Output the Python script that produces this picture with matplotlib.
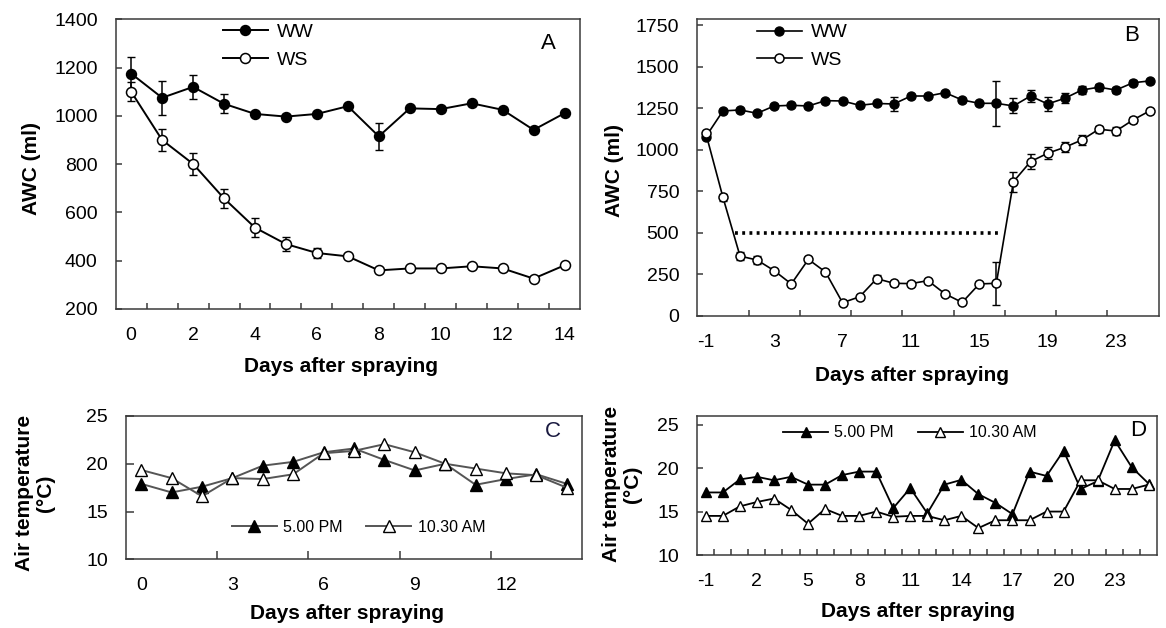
import numpy as np
import matplotlib
matplotlib.use("Agg")
import matplotlib.pyplot as plt

plt.rcParams['font.family'] = ['Liberation Sans', 'DejaVu Sans']
plt.rcParams['axes.unicode_minus'] = False

# ---- Panel A: available water content, 0-14 days ----
days_a = list(range(0, 15))
ww_a = [1175, 1075, 1120, 1050, 1008, 997, 1008, 1040, 915, 1031, 1028, 1052, 1025, 942, 1011]
ww_a_err = [70, 70, 50, 40, 10, 10, 10, 10, 55, 10, 10, 10, 10, 10, 10]
ws_a = [1100, 900, 801, 658, 537, 469, 432, 418, 360, 368, 368, 377, 368, 326, 381]
ws_a_err = [40, 45, 45, 40, 40, 30, 20, 10, 10, 10, 10, 10, 10, 10, 10]

# ---- Panel B: available water content, -1-25 days ----
days_b = list(range(-1, 26))
ww_b = [1080, 1235, 1241, 1221, 1265, 1269, 1265, 1297, 1295, 1269, 1280, 1277, 1325, 1325,
        1345, 1301, 1281, 1281, 1265, 1325, 1277, 1311, 1361, 1378, 1361, 1405, 1416]
ww_b_err = [10, 10, 10, 10, 10, 10, 10, 10, 10, 10, 10, 45, 10, 10,
            10, 10, 10, 135, 45, 35, 40, 30, 25, 20, 20, 15, 10]
ws_b = [1100, 715, 361, 337, 273, 193, 341, 265, 80, 116, 225, 197, 195, 213,
        133, 82, 193, 197, 809, 930, 980, 1016, 1060, 1125, 1114, 1181, 1237]
ws_b_err = [10, 20, 25, 25, 10, 10, 10, 10, 10, 10, 20, 15, 10, 10,
            10, 10, 10, 130, 60, 45, 35, 30, 30, 20, 25, 20, 10]
threshold_b = 500
threshold_span = (0.7, 16.3)

# ---- Panel C: air temperature, 0-14 days ----
days_c = list(range(0, 15))
pm_c = [17.9, 17.0, 17.6, 18.5, 19.8, 20.2, 21.2, 21.6, 20.4, 19.3, 20.0, 17.8, 18.4, 18.9, 17.9]
am_c = [19.35, 18.5, 16.6, 18.5, 18.4, 18.9, 21.1, 21.35, 22.05, 21.2, 20.0, 19.5, 19.0, 18.8, 17.5]

# ---- Panel D: air temperature, -1-25 days ----
days_d = list(range(-1, 26))
pm_d = [17.2, 17.2, 18.7, 19.0, 18.6, 19.0, 18.1, 18.1, 19.2, 19.6, 19.6, 15.4, 17.7, 14.8,
        18.1, 18.65, 17.0, 16.0, 14.7, 19.6, 19.1, 22.0, 17.6, 18.5, 23.2, 20.1, 18.2]
am_d = [14.5, 14.5, 15.6, 16.1, 16.5, 15.2, 13.6, 15.3, 14.5, 14.5, 15.0, 14.4, 14.5, 14.5,
        14.0, 14.5, 13.1, 14.0, 14.0, 14.0, 15.0, 15.0, 18.6, 18.6, 17.6, 17.6, 18.1]

SPINE = '#3a3a3a'
W, H = 1166, 628


def px_axes(left, right, top, bottom):
    return [left / W, 1 - bottom / H, (right - left) / W, (bottom - top) / H]


def style(ax, minor_ticks, major_ticks, ylim, yticks, ticklen):
    for s in ax.spines.values():
        s.set_color(SPINE)
        s.set_linewidth(1.1)
    ax.set_xticks(major_ticks)
    ax.set_xticks(minor_ticks, minor=True)
    ax.set_ylim(*ylim)
    ax.set_yticks(yticks)
    ax.tick_params(axis='x', which='major', length=0, labelsize=14, pad=13)
    ax.tick_params(axis='x', which='minor', direction='in', length=ticklen,
                   width=1.1, color=SPINE)
    ax.tick_params(axis='y', direction='in', length=ticklen, width=1.1,
                   color=SPINE, labelsize=14, pad=13)


fig = plt.figure(figsize=(11.66, 6.28), dpi=100)

# Panel A
ax_a = fig.add_axes(px_axes(115.7, 580, 19.3, 309))
ax_a.errorbar(days_a, ww_a, yerr=ww_a_err, fmt='none', ecolor='black', elinewidth=1.1, capsize=3, zorder=2)
ax_a.errorbar(days_a, ws_a, yerr=ws_a_err, fmt='none', ecolor='black', elinewidth=1.1, capsize=3, zorder=2)
ax_a.plot(days_a, ww_a, color='black', lw=1.4, marker='o', ms=7.2, mfc='black', mec='black', label='WW', zorder=3)
ax_a.plot(days_a, ws_a, color='black', lw=1.4, marker='o', ms=7.2, mfc='white', mec='black', mew=1.1, label='WS', zorder=3)
ax_a.set_xlim(-0.5, 14.5)
style(ax_a, np.arange(0.5, 14, 1), range(0, 15, 2), (200, 1400), range(200, 1401, 200), 4)
ax_a.legend(loc='upper left', bbox_to_anchor=(0.231, 0.985), frameon=False, fontsize=14,
            borderpad=0, borderaxespad=0, handlelength=2.3, handletextpad=0.5)
ax_a.text(0.932, 0.917, 'A', transform=ax_a.transAxes, fontsize=16, ha='center', va='center')
ax_a.set_ylabel('AWC (ml)', fontsize=15, fontweight='bold', va='center')
ax_a.yaxis.set_label_coords(-0.182, 0.485)
ax_a.set_xlabel('Days after spraying', fontsize=15, fontweight='bold', va='center')
ax_a.xaxis.set_label_coords(0.485, -0.197)

# Panel B
ax_b = fig.add_axes(px_axes(697.3, 1158.7, 19.3, 316))
ax_b.errorbar(days_b, ww_b, yerr=ww_b_err, fmt='none', ecolor='black', elinewidth=1.1, capsize=3, zorder=2)
ax_b.errorbar(days_b, ws_b, yerr=ws_b_err, fmt='none', ecolor='black', elinewidth=1.1, capsize=3, zorder=2)
ax_b.plot(days_b, ww_b, color='black', lw=1.2, marker='o', ms=6.5, mfc='black', mec='black', label='WW', zorder=3)
ax_b.plot(days_b, ws_b, color='black', lw=1.2, marker='o', ms=6.5, mfc='white', mec='black', mew=1.1, label='WS', zorder=3)
ax_b.plot(threshold_span, [threshold_b, threshold_b], color='black', lw=2.6,
          linestyle=(0, (0.8, 1.2)), zorder=2)
ax_b.set_xlim(-1.5, 25.5)
style(ax_b, np.arange(1.5, 25, 3), range(-1, 26, 4), (0, 1787), range(0, 1751, 250), 4)
ax_b.legend(loc='upper left', bbox_to_anchor=(0.129, 0.985), frameon=False, fontsize=14,
            borderpad=0, borderaxespad=0, handlelength=2.3, handletextpad=0.5)
ax_b.text(0.9415, 0.944, 'B', transform=ax_b.transAxes, fontsize=16, ha='center', va='center')
ax_b.set_ylabel('AWC (ml)', fontsize=15, fontweight='bold', va='center')
ax_b.yaxis.set_label_coords(-0.18, 0.489)
ax_b.set_xlabel('Days after spraying', fontsize=15, fontweight='bold', va='center')
ax_b.xaxis.set_label_coords(0.465, -0.199)

# Panel C
ax_c = fig.add_axes(px_axes(126, 582, 416, 559.3))
ax_c.plot(days_c, pm_c, color='#555555', lw=1.4, marker='^', ms=8, mfc='black', mec='black', label='5.00 PM')
ax_c.plot(days_c, am_c, color='#555555', lw=1.4, marker='^', ms=8, mfc='white', mec='black', mew=1.0, label='10.30 AM')
ax_c.set_xlim(-0.5, 14.5)
style(ax_c, np.arange(2.5, 14, 3), range(0, 15, 3), (10, 25), range(10, 26, 5), 6)
ax_c.legend(loc='center left', bbox_to_anchor=(0.232, 0.223), frameon=False, fontsize=11.5, ncol=2,
            borderpad=0, borderaxespad=0, handlelength=2.8, handletextpad=0.4, columnspacing=1.5)
ax_c.text(0.936, 0.89, 'C', transform=ax_c.transAxes, fontsize=16, ha='center', va='center', color='#1a1a40')
ax_c.set_ylabel('Air temperature\n(\u00b0C)', fontsize=15, fontweight='bold', va='center', linespacing=1.1)
ax_c.yaxis.set_label_coords(-0.2, 0.46)
ax_c.set_xlabel('Days after spraying', fontsize=15, fontweight='bold', va='center')
ax_c.xaxis.set_label_coords(0.485, -0.375)

# Panel D
ax_d = fig.add_axes(px_axes(697.3, 1157.3, 416, 555))
ax_d.plot(days_d, pm_d, color='black', lw=1.3, marker='^', ms=7, mfc='black', mec='black', label='5.00 PM')
ax_d.plot(days_d, am_d, color='black', lw=1.3, marker='^', ms=7, mfc='white', mec='black', mew=1.0, label='10.30 AM')
ax_d.set_xlim(-1.5, 25.5)
style(ax_d, np.arange(-0.5, 25, 1), range(-1, 26, 3), (10, 26), range(10, 26, 5), 4)
ax_d.legend(loc='center left', bbox_to_anchor=(0.187, 0.88), frameon=False, fontsize=11.5, ncol=2,
            borderpad=0, borderaxespad=0, handlelength=2.8, handletextpad=0.4, columnspacing=1.5)
ax_d.text(0.959, 0.894, 'D', transform=ax_d.transAxes, fontsize=16, ha='center', va='center')
ax_d.set_ylabel('Air temperature\n(\u00b0C)', fontsize=15, fontweight='bold', va='center', linespacing=1.1)
ax_d.yaxis.set_label_coords(-0.164, 0.51)
ax_d.set_xlabel('Days after spraying', fontsize=15, fontweight='bold', va='center')
ax_d.xaxis.set_label_coords(0.479, -0.41)

fig.savefig('out.png', dpi=100)
